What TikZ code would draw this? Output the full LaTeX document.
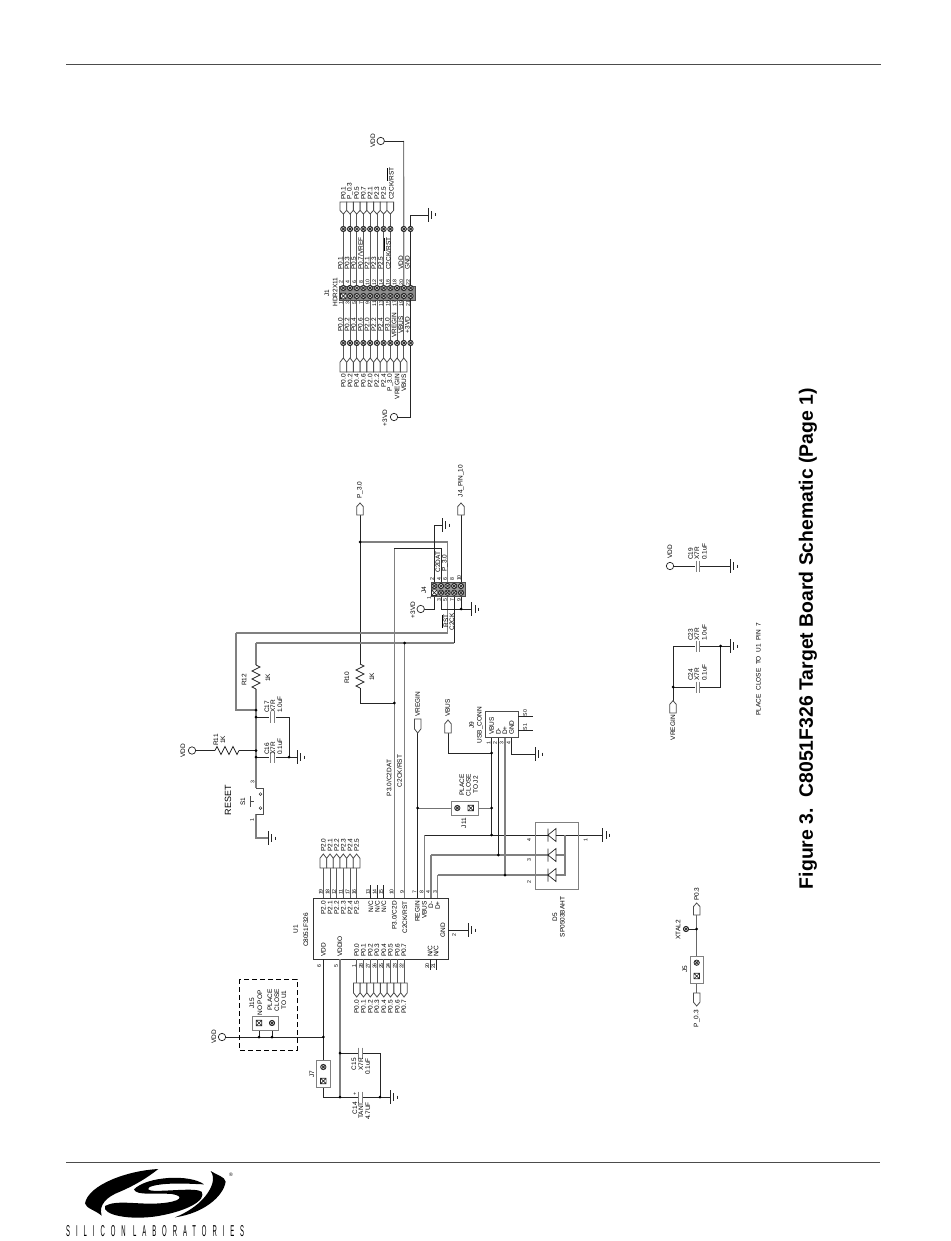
\documentclass[tikz,border=0pt]{standalone}
\usepackage{fontspec}
\setmainfont{Liberation Sans}
\newcounter{lbl}
\tikzset{
 lbl/.style={rotate=90,font=\fontsize{6.5}{7}\selectfont,inner sep=0pt,text=black},
 num/.style={rotate=90,font=\fontsize{5.2}{5.5}\selectfont,inner sep=0pt,text=black},
 wire/.style={draw=black!85,line width=.7pt},
 gw/.style={draw=black!50,line width=1.2pt},
 part/.style={draw=black!70,line width=.7pt,fill=white},
}
\newcommand\T[3][]{\stepcounter{lbl}\node[lbl,#1] (t\arabic{lbl}) at (#2) {#3};}
\newcommand\N[3][]{\stepcounter{lbl}\node[num,#1] (t\arabic{lbl}) at (#2) {#3};}
\newcommand\gnd[1]{\draw[wire,shift={(#1)}] (0,-7)--(0,7) (3.5,-4)--(3.5,4) (7,-1.5)--(7,1.5);}
\newcommand\bead[1]{\draw[black!85,line width=.7pt,fill=black!25,shift={(#1)}] (0,0) circle (2.7);\draw[black!85,line width=.7pt,shift={(#1)}] (-1.9,-1.9)--(1.9,1.9) (-1.9,1.9)--(1.9,-1.9);}
\newcommand\xsq[1]{\draw[black!85,line width=.65pt,fill=white,shift={(#1)}] (-2.8,-2.8) rectangle (2.8,2.8) (-2.8,-2.8)--(2.8,2.8) (-2.8,2.8)--(2.8,-2.8);}
\newcommand\jn[1]{\fill[black,shift={(#1)}] (0,0) circle (1.5);}
\newcommand\port[3]{\draw[black!70,line width=.8pt,fill=white] (#1-3.3,#2)--(#1+3.3,#2)--(#1+3.3,{#3+(#2-#3)*0.3})--(#1,#3)--(#1-3.3,{#3+(#2-#3)*0.3})--cycle;}
\newcommand\capv[2]{\draw[gw,line width=.9pt,shift={(#1,#2)}] (-1.7,-5.5)--(-1.7,5.5) (1.7,-5.5)--(1.7,5.5);}
\newcommand\res[2]{\draw[wire,shift={(#1)},rotate=#2] (0,0)--(4,2)--(-4,6)--(4,10)--(-4,14)--(4,18)--(-4,22)--(0,24);}
\newcommand\vc[1]{\draw[black!85,line width=.7pt,fill=white] (#1) circle (3.7);}
\begin{document}
\begin{tikzpicture}[x=1pt,y=-1pt]
\useasboundingbox[fill=white] (0,0) rectangle (950,1241);
% page rules
\coordinate (ra) at (66,64); \coordinate (rb) at (881,64);
\coordinate (rc) at (66,1162); \coordinate (rd) at (880,1162);
\draw[black!70,line width=.9pt] (ra)--(rb) (rc)--(rd);
% title
\node[rotate=90,inner sep=0pt,font=\bfseries\fontsize{15}{16}\selectfont] (title) at (808,638.5)
 {\resizebox{501pt}{!}{Figure 3.\ \ C8051F326 Target Board Schematic (Page 1)}};

%% ---------- U1
\node[draw=black!80,line width=.8pt,minimum width=135pt,minimum height=61pt,inner sep=0pt,anchor=north west] (u1) at (313,898) {};
\T{295.7,929}{U1}
\T{306,930}{C8051F326}
\foreach \x/\t/\n in {323.3/P2.0/19,330/P2.1/18,336.6/P2.2/12,343.3/P2.3/11,350/P2.4/17,356.6/P2.5/16}{
 \coordinate (pa) at (\x,898); \coordinate (pb) at (\x,868);
 \draw[black!65,line width=.9pt] (pa)--(pb);
 \port{\x}{868}{854}
 \T[anchor=east]{\x,901}{\t}
 \N{\x-2.5,892}{\n}
 \T[anchor=west]{\x,852}{\t}
}
\foreach \x/\n in {370.7/13,377.2/14,383.7/15}{
 \coordinate (pa) at (\x,898); \coordinate (pb) at (\x,885);
 \draw[wire] (pa)--(pb);
 \T[anchor=east]{\x,901}{N/C}
 \N{\x-2.7,892}{\n}
}
\foreach \x/\t/\n in {356.7/P0.0/1,363.5/P0.1/28,370.3/P0.2/27,377/P0.3/26,383.8/P0.4/25,390.5/P0.5/24,397.3/P0.6/23,404/P0.7/22}{
 \coordinate (pa) at (\x,959); \coordinate (pb) at (\x,983);
 \draw[black!65,line width=.9pt] (pa)--(pb);
 \port{\x}{983}{997}
 \T[anchor=west]{\x,957}{\t}
 \N{\x-2.5,966}{\n}
 \T[anchor=east]{\x,1000}{\t}
}
\T[anchor=west]{323.3,957}{VDD}
\T[anchor=west]{340,957}{VDDIO}
\N{319,966}{6}
\N{336,966}{5}
\foreach \x/\n in {430/20,436/21}{
 \coordinate (pa) at (\x,959); \coordinate (pb) at (\x,970);
 \draw[wire] (pa)--(pb);
 \T[anchor=west]{\x,957}{N/C}
 \N{\x-2.7,966}{\n}
}
\T[anchor=east]{394.3,901}{P3.0/C2D}
\T[anchor=east]{404.7,901}{C2CK/RST}
\T[anchor=east]{417.3,901}{REGIN}
\T[anchor=east]{424.3,901}{VBUS}
\T[anchor=east]{431,901}{D-}
\T[anchor=east]{437.7,901}{D+}
\N{391.5,892}{10}
\N{402,892}{9}
\N{414.5,892}{7}
\N{421.5,892}{8}
\N{428.2,892}{4}
\N{435,892}{3}
\T{443,930}{GND}
\N{454,935}{2}
\coordinate (ug) at (448,930); \coordinate (ug2) at (468,930);
\draw[wire] (ug)--(ug2); \gnd{ug2}

%% ---------- VDD / J15 / J7 / C14 / C15
\coordinate (vddu) at (323.3,959); \coordinate (vj) at (323.3,1037);
\coordinate (vc) at (222,1037);
\coordinate (j7t) at (323.3,1060); \coordinate (j7b) at (323.3,1087);
\coordinate (j7c) at (323.3,1097); \coordinate (vio) at (340,959);
\coordinate (c15l) at (340,1053); \coordinate (c15r) at (380,1053);
\coordinate (c14l) at (340,1097); \coordinate (c14r) at (380,1097); \coordinate (c14g) at (390,1097);
\coordinate (j15a) at (259,1023); \coordinate (j15b) at (272,1023);
\coordinate (j15c) at (259,1037); \coordinate (j15d) at (272,1037);
\draw[wire] (vddu)--(vj)--(j7t) (vj)--(vc) (j7b)--(j7c)--(c14l);
\draw[gw] (vio)--(c14l);
\draw[wire] (c15l)--(c15r)--(c14r) (c14l)--(c14g);
\draw[wire] (j15a)--(j15c) (j15b)--(j15d);
\draw[black,line width=.8pt,dash pattern=on 5pt off 3pt] (239,979) rectangle (297,1050);
\node[part,draw=black!50,line width=1pt,minimum width=26pt,minimum height=14pt,inner sep=0pt] (j15) at (265.7,1023) {};
\bead{j15b} \xsq{j15a}
\jn{j15c}\jn{j15d}\jn{vj}
\vc{vc}
\T{214,1037}{VDD}
\T{252,1003}{J15}
\T{260,1003}{NO POP}
\T{270,1000}{PLACE}
\T{277,1000}{CLOSE}
\T{284,1000}{TO U1}
\node[part,draw=black!50,line width=1pt,minimum width=14pt,minimum height=27pt,inner sep=0pt] (j7) at (323,1073.5) {};
\coordinate (j7o) at (323.3,1067); \coordinate (j7x) at (323.3,1081);
\bead{j7o}\xsq{j7x}
\T{312,1074}{J7}
\jn{c15l}\jn{c14l}\jn{c14r}
\fill[white] (358,1048) rectangle (363,1058);
\fill[white] (358,1092) rectangle (363,1102);
\capv{360.5}{1053}\capv{360.5}{1097}
\N{355,1094}{+}
\gnd{c14g}
\T[anchor=east]{354,1058}{C15}
\T[anchor=east]{361,1058}{X7R}
\T[anchor=east]{367.7,1058}{0.1uF}
\T[anchor=east]{355,1102}{C14}
\T[anchor=east]{361,1102}{TANT}
\T[anchor=east]{368,1102}{4.7UF}

%% ---------- reset section
\coordinate (r12t) at (256,665); \coordinate (r12b) at (256,689);
\coordinate (c2ck) at (256,643); \coordinate (rstc) at (236,633); \coordinate (rstb) at (236,710);
\coordinate (ja) at (256,710); \coordinate (jb) at (256,717); \coordinate (jc) at (256,750.5); \coordinate (jd) at (256,757);
\coordinate (s3) at (256,788); \coordinate (s1) at (256,814); \coordinate (sg) at (256,838); \coordinate (sgg) at (268,838);
\coordinate (c17r) at (289,717); \coordinate (c16r) at (289,757); \coordinate (gr) at (297,757);
\coordinate (vr) at (192,750.5); \coordinate (r11a) at (215,750.5); \coordinate (r11b) at (239,750.5);
\draw[gw] (c2ck)--(r12t) (r12b)--(s3) (s1)--(sg)--(sgg) (rstc)--(rstb)--(ja);
\draw[wire] (jb)--(c17r)--(c16r)--(gr) (jd)--(c16r) (vr)--(r11a) (r11b)--(jc);
\res{r12t}{0}
\res{r11a}{90}
\fill[white] (269,712) rectangle (276,722);
\fill[white] (269,752) rectangle (276,762);
\capv{272.3}{717}\capv{272.3}{757}
\jn{ja}\jn{jb}\jn{jc}\jn{jd}\jn{c16r}
\vc{vr}
\gnd{gr}\gnd{sgg}
\draw[black!70,line width=.8pt] (s3)--(263,788)--(263,814)--(s1);
\fill[white] (255,793) rectangle (257,810);
\draw[black!85,line width=.5pt,fill=white] (260.5,794) circle (1.4) (260.5,808) circle (1.4);
\draw[black!70,line width=.6pt] (250.5,796)--(250.5,807) (250.5,801.5)--(254,801.5);
\T{183,750.5}{VDD}
\T{216,740}{R11}
\T{223,740}{1K}
\T{244,680}{R12}
\T{268,678}{1K}
\T[anchor=west]{267,713}{C17}
\T[anchor=west]{272.8,713}{X7R}
\T[anchor=west]{280,713}{1.0uF}
\T[anchor=west]{267,755}{C16}
\T[anchor=west]{272.8,755}{X7R}
\T[anchor=west]{280,755}{0.1uF}
\T{243,802}{S1}
\N{252,820}{1}
\N{252.5,782}{3}
\T[font=\fontsize{9}{9}\selectfont]{228,800}{RESET}

%% ---------- C2 nets, R10, J4
\coordinate (p30c) at (360,515); \coordinate (p30j) at (360,542); \coordinate (r10t) at (360,664); \coordinate (r10b) at (360,688);
\coordinate (r10c) at (360,703); \coordinate (c2dj) at (394.3,703); \coordinate (c2dt) at (394.3,548); \coordinate (c2db) at (394.3,898);
\coordinate (ckt) at (404.7,643); \coordinate (ckb) at (404.7,898);
\coordinate (p4) at (441,586); \coordinate (p6) at (447.5,586); \coordinate (p2) at (434.3,586); \coordinate (p10) at (461,586); \coordinate (p8) at (454.2,586);
\coordinate (p1) at (434.3,592.7); \coordinate (p3) at (441,592.7); \coordinate (p5) at (447.5,592.7); \coordinate (p7) at (454.2,592.7); \coordinate (p9) at (461,592.7);
\coordinate (p4u) at (441,548); \coordinate (p6u) at (447.5,542); \coordinate (p2u) at (434.3,525); \coordinate (p2g) at (442,525);
\coordinate (p10u) at (461,515);
\coordinate (p5d) at (447.5,633); \coordinate (p7d) at (454.2,643);
\coordinate (p1d) at (434.3,609); \coordinate (v3) at (420.7,609);
\coordinate (p3d) at (441,609); \coordinate (p9d) at (461,609); \coordinate (p9g) at (471.5,609);
\draw[wire] (p30c)--(r10t) (r10b)--(r10c)--(c2dj);
\res{r10t}{0}
\draw[gw] (p30j)--(p6u)--(p6) (c2dt)--(c2db) (ckt)--(ckb) (rstc)--(p5d)--(p5) (c2ck)--(p7d);
\draw[wire] (c2dt)--(p4u)--(p4) (p7d)--(p7) (p2)--(p2u)--(p2g) (p10)--(p10u) (p1)--(p1d)--(v3) (p3)--(p3d)--(p9g) (p9)--(p9d);
\jn{p30j}\jn{c2dj}\jn{ckt}\jn{p9d}
\port{360}{515}{503}
\port{461}{515}{503}
\vc{v3}
\gnd{p2g}\gnd{p9g}
\node[draw=black!70,fill=black!40,line width=.7pt,minimum width=34pt,minimum height=14pt,inner sep=0pt] (j4) at (448,589) {};
\foreach \c in {p2,p4,p6,p8,p10,p3,p5,p7,p9}{\bead{\c}}
\xsq{p1}
\T{360,490}{P\_3.0}
\T{461,481}{J4\_PIN\_10}
\T{438,562}{C2DAT}
\T{445,563}{P\_3.0}
\T{424,590}{J4}
\T{413,610}{+3VD}
\T{445,621}{$\overline{\mbox{RST}}$}
\T{452,622}{C2CK}
\N{432,579}{2}\N{439,579}{4}\N{445,579}{6}\N{452,579}{8}\N{459,578}{10}
\N{429,598}{1}\N{439,600}{3}\N{445,600}{5}\N{452,600}{7}\N{459,600}{9}
\T{347,678}{R10}
\T{372,677}{1K}
\T{389,778}{P3.0/C2DAT}
\T{399.5,771}{C2CK/RST}

%% ---------- USB, J11, D5
\coordinate (vrc) at (417.7,733); \coordinate (vru) at (417.7,898); \coordinate (vrj) at (417.7,808);
\coordinate (vbc) at (448,733); \coordinate (vbd) at (448,753);
\coordinate (q1) at (491.7,737); \coordinate (q2) at (498.3,737); \coordinate (q3) at (505,737); \coordinate (q4) at (511.7,737);
\coordinate (j1) at (491.7,753); \coordinate (j2) at (491.7,808); \coordinate (j3) at (491.7,835); \coordinate (j4b) at (498.3,855); \coordinate (j5b) at (505,875);
\coordinate (ug4) at (511.7,754); \coordinate (ug5) at (535,754);
\coordinate (a1) at (424.3,898); \coordinate (a1t) at (424.3,835);
\coordinate (a2) at (431,898); \coordinate (a2t) at (431,855);
\coordinate (a3) at (437.7,898); \coordinate (a3t) at (437.7,875);
\coordinate (d1) at (548,835); \coordinate (d2) at (548,855); \coordinate (d3) at (548,875);
\coordinate (e1) at (556,835); \coordinate (e2) at (556,855); \coordinate (e3) at (556,875);
\coordinate (f1) at (565,835); \coordinate (f2) at (565,855); \coordinate (f3) at (565,875); \coordinate (dg) at (602.7,835);
\draw[wire] (vrc)--(vru) (vbc)--(vbd)--(j1) (q1)--(j3) (q2)--(j4b) (ug5)--(ug4)--(q4) (a1t)--(d1) (e1)--(dg);
\draw[gw] (q3)--(j5b) (a2t)--(d2) (a3t)--(d3) (a1)--(a1t) (a2)--(a2t) (a3)--(a3t) (e2)--(f2) (e3)--(f3)--(f1);
\draw[black!55,line width=.7pt] (vrj)--(j2);
\node[draw=black!50,line width=1.1pt,minimum width=43.3pt,minimum height=67.3pt,inner sep=0pt,anchor=north west] (d5) at (535,821.7) {};
\foreach \c in {d1,d2,d3}{
 \draw[black!85,line width=.7pt,shift={(\c)}] (0,-6.5)--(0,6.5) (0,0)--(8,-6.5)--(8,6.5)--cycle;
}
\jn{j1}\jn{j2}\jn{j3}\jn{j4b}\jn{j5b}\jn{vrj}
\gnd{ug5}\gnd{dg}
\port{417.7}{719}{733}
\port{448}{733}{720}
\T[anchor=west]{417.7,717}{VREGIN}
\T[anchor=west]{447.7,717}{VBUS}
\node[part,draw=black!50,line width=1pt,minimum width=27pt,minimum height=13.5pt,inner sep=0pt] (j11) at (464.5,808.3) {};
\coordinate (j11o) at (457.3,808); \coordinate (j11x) at (470.7,808);
\bead{j11o}\xsq{j11x}
\T{462,785}{PLACE}
\T{468.5,785}{CLOSE}
\T{475.7,785}{TO J2}
\T{464,823}{J11}
\node[draw=black!70,line width=.8pt,minimum width=33.3pt,minimum height=26.3pt,inner sep=0pt,anchor=north west] (j9) at (485,710.7) {};
\T[anchor=west]{491.7,735}{VBUS}
\T[anchor=west]{498.3,735}{D-}
\T[anchor=west]{505,735}{D+}
\T[anchor=west]{511.7,735}{GND}
\N{488.5,743}{1}\N{495,743}{2}\N{501.5,743}{3}\N{508.5,743}{4}
\coordinate (s0a) at (518.3,716); \coordinate (s0b) at (532.7,716);
\coordinate (s1a) at (518.3,730); \coordinate (s1b) at (532.7,730);
\draw[wire] (s0a)--(s0b) (s1a)--(s1b);
\N{525,713}{S0}\N{525,727}{S1}
\T{471.7,725}{J9}
\T{480,725}{USB\_CONN}
\N{529,840}{4}\N{529,860}{3}\N{529,882}{2}\N{585.7,840}{1}
\T{555,917}{D5}
\T{562.5,917}{SP0503BAHT}

%% ---------- J1
\node[draw=black!70,fill=black!45,line width=.7pt,minimum width=75.7pt,minimum height=14.3pt,inner sep=0pt,anchor=north west] (j1box) at (339.3,285.7) {};
\foreach \i in {0,...,10}{
 \pgfmathsetmacro\xx{343.3+6.72*\i}
 \coordinate (e\i) at (\xx,288); \coordinate (o\i) at (\xx,296);
 \coordinate (lo\i) at (\xx,358);
 \coordinate (ub\i) at (\xx,229); \coordinate (lb\i) at (\xx,343);
 \coordinate (ue\i) at (\xx,214);
}
\foreach \i in {0,...,7}{
 \draw[black!65,line width=.8pt] (ue\i)--(e\i);
}
\draw[black!65,line width=.8pt] (o0)--(lo0);
\foreach \i in {1,...,9}{\draw[black!65,line width=.8pt] (o\i)--(lo\i);}
\coordinate (vdc) at (380.7,141); \coordinate (vdb) at (403.6,141);
\coordinate (gnt) at (410.5,215); \coordinate (gng) at (428,215);
\coordinate (v3c) at (394,417); \coordinate (v3b) at (410.5,417);
\draw[gw] (vdb)--(e9);
\draw[wire] (vdc)--(vdb) (e10)--(gnt)--(gng) (o10)--(v3b)--(v3c);
\gnd{gng}
\vc{vdc}\vc{v3c}
\foreach \i in {0,...,10}{\bead{e\i}\bead{o\i}\bead{lb\i}}
\xsq{o0}
\foreach \i in {0,...,7,9,10}{\bead{ub\i}}
\foreach \i/\t in {0/P0.1,1/P\_0.3,2/P0.5,3/P0.7,4/P2.1,5/P2.3,6/P2.5,7/{C2CK/$\overline{\mbox{RST}}$}}{
 \pgfmathsetmacro\xx{343.3+6.72*\i}
 \port{\xx}{202}{214}
 \T[anchor=west]{\xx,200}{\t}
}
\foreach \i/\t in {0/P0.1,1/P0.3,2/P0.5,3/{P0.7/VREF},4/P2.1,5/P2.3,6/P2.5,7/{C2CK/$\overline{\mbox{RST}}$},9/VDD,10/GND}{
 \pgfmathsetmacro\xx{343.3+6.72*\i-3}
 \T[anchor=west]{\xx,270}{\t}
}
\foreach \i/\t in {0/P0.0,1/P0.2,2/P0.4,3/P0.6,4/P2.0,5/P2.2,6/P2.4,7/P\_3.0,8/VREGIN,9/VBUS}{
 \pgfmathsetmacro\xx{343.3+6.72*\i}
 \port{\xx}{372}{358}
 \T[anchor=east]{\xx,374}{\t}
}
\foreach \i/\t in {0/P0.0,1/P0.2,2/P0.4,3/P0.6,4/P2.0,5/P2.2,6/P2.4,7/P3.0,8/VREGIN,9/VBUS,10/+3VD}{
 \pgfmathsetmacro\xx{343.3+6.72*\i-3}
 \T{\xx,325}{\t}
}
\foreach \i/\t in {0/2,1/4,2/6,3/8,4/10,5/12,6/14,7/16,8/18,9/20,10/22}{
 \pgfmathsetmacro\xx{343.3+6.72*\i-2.5}
 \N{\xx,282.5}{\t}
}
\foreach \i/\t in {0/1,1/3,2/5,3/7,4/9,5/11,6/13,7/15,8/17,9/19,10/21}{
 \pgfmathsetmacro\xx{343.3+6.72*\i-2.5}
 \N{\xx,303.5}{\t}
}
\T{373,141}{VDD}
\T{385,418}{+3VD}
\T{327,293}{J1}
\T{335,292}{HDR2X11}

%% ---------- decoupling caps lower right
\coordinate (vdd2) at (670,566); \coordinate (vdd2g) at (730,566);
\coordinate (vrg) at (673,700.7); \coordinate (vrgt) at (673,646); \coordinate (vrgj) at (673,687);
\coordinate (c24r) at (720.7,687); \coordinate (c23r) at (720.7,646); \coordinate (c23g) at (730,646);
\draw[wire] (vdd2)--(vdd2g) (vrg)--(vrgt)--(c23g) (vrgj)--(c24r)--(c23r);
\foreach \a in {566,646,687}{\fill[white] (695,\a-4) rectangle (700.4,\a+4); \capv{697.7}{\a}}
\jn{vrgj}\jn{c23r}
\vc{vdd2}
\gnd{vdd2g}\gnd{c23g}
\port{673}{713}{700.7}
\T{670,552}{VDD}
\T[anchor=east]{673,715}{VREGIN}
\T[anchor=west]{690.7,560}{C19}
\T[anchor=west]{697,560}{X7R}
\T[anchor=west]{704.3,560}{0.1uF}
\T[anchor=west]{690.7,641}{C23}
\T[anchor=west]{697,641}{X7R}
\T[anchor=west]{704.3,641}{1.0uF}
\T[anchor=west]{690.7,681}{C24}
\T[anchor=west]{697,681}{X7R}
\T[anchor=west]{704.3,681}{0.1uF}
\T{758.3,669}{PLACE\ \ CLOSE\ \ TO\ \ U1\ \ PIN\ \ 7}

%% ---------- J5
\coordinate (j5t) at (696.7,915); \coordinate (j5j) at (696.7,929); \coordinate (j5bx) at (696.7,983); \coordinate (j5e) at (696.7,993);
\coordinate (xt) at (686,929);
\draw[black!60,line width=.9pt] (j5t)--(j5bx)--(j5e);
\draw[wire] (xt)--(j5j);
\port{696.7}{915}{903}
\port{696.7}{993}{1006}
\jn{j5j}\bead{xt}
\node[part,draw=black!50,line width=1pt,minimum width=13.3pt,minimum height=27pt,inner sep=0pt] (j5) at (696.7,969.5) {};
\coordinate (j5o) at (696.7,962.7); \coordinate (j5x) at (696.7,976);
\bead{j5o}\xsq{j5x}
\T[anchor=west]{696.7,901}{P0.3}
\T[anchor=east]{696.7,1010}{P\_0.3}
\T{678,930}{XTAL2}
\T{685,969}{J5}

%% ---------- logo
\begin{scope}[x=.3333pt,y=-.3333pt,shift={(60pt,-1150pt)}]
\fill[black] (295,57) .. controls (200,62) and (85,105) .. (75,160) .. controls (78,175) and (105,180) .. (125,197) .. controls (115,165) and (140,140) .. (180,125) .. controls (220,108) and (260,85) .. (295,57) -- cycle;
\fill[black] (345,202) .. controls (430,190) and (490,140) .. (497,95) .. controls (495,80) and (470,75) .. (452,63) .. controls (468,85) and (455,115) .. (435,140) .. controls (410,170) and (375,190) .. (345,202) -- cycle;
\fill[black] (432,103) .. controls (390,72) and (262,78) .. (222,118) .. controls (228,138) and (290,128) .. (335,132) .. controls (375,138) and (365,155) .. (300,160) .. controls (235,165) and (170,148) .. (135,168) .. controls (125,195) and (210,212) .. (295,198) .. controls (385,182) and (440,150) .. (425,125) .. controls (405,112) and (320,125) .. (275,122) .. controls (255,118) and (262,108) .. (305,103) .. controls (350,98) and (400,102) .. (432,103) -- cycle;
\end{scope}
\node[inner sep=0pt,font=\fontsize{5}{5}\selectfont] (reg) at (231,1174.5) {®};
\node[inner sep=0pt,anchor=west] (brand) at (66,1231) {\resizebox{178pt}{11pt}{\fontsize{15}{15}\selectfont\addfontfeature{LetterSpace=100}SILICON LABORATORIES}};
\end{tikzpicture}
\end{document}
